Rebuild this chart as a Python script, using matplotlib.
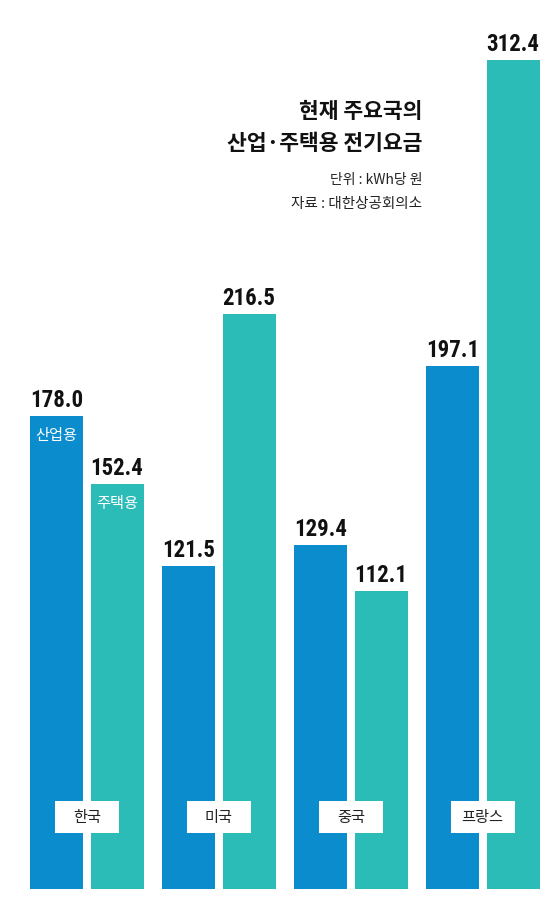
import numpy as np
import matplotlib
matplotlib.use('Agg')
import matplotlib.pyplot as plt
from matplotlib.patches import Rectangle

plt.rcParams['font.family'] = ['Noto Sans CJK KR', 'DejaVu Sans']

# data
countries = ['한국', '미국', '중국', '프랑스']
industrial = [178.0, 121.5, 129.4, 197.1]
residential = [152.4, 216.5, 112.1, 312.4]
series_names = ['산업용', '주택용']
title_lines = ['현재 주요국의', '산업·주택용 전기요금']
unit_text = '단위 : kWh당 원'
source_text = '자료 : 대한상공회의소'

blue = '#0a8ccd'
teal = '#2cbcb7'

W, H = 560, 920
fig = plt.figure(figsize=(W / 100, H / 100), dpi=100)
ax = fig.add_axes([0, 0, 1, 1])
ax.set_axis_off()

# 1 group = 132 px, 1 value unit = 2.655 px, baseline at 890 px from top
px_x = 132.0
px_y = 2.655
x0 = 56.5
ax.set_xlim(-x0 / px_x, (W - x0) / px_x)
ax.set_ylim(-(H - 890) / px_y, 890 / px_y)

idx = np.arange(len(countries))
bw = 53 / px_x
off = 60.5 / px_x
b1 = ax.bar(idx, industrial, width=bw, color=blue)
b2 = ax.bar(idx + off, residential, width=bw, color=teal)

num_font = ['Roboto Condensed', 'DejaVu Sans']
for bars, vals in ((b1, industrial), (b2, residential)):
    for r, v in zip(bars, vals):
        ax.annotate(f'{v:.1f}', (r.get_x() + r.get_width() / 2, v),
                    xytext=(0, 5), textcoords='offset pixels',
                    ha='center', va='bottom', fontsize=16.5, fontweight='bold',
                    family=num_font, color='#111111')

# series names inside the first group
for bars, vals, name in ((b1, industrial, series_names[0]),
                         (b2, residential, series_names[1])):
    r = bars[0]
    ax.annotate(name, (r.get_x() + r.get_width() / 2, vals[0]),
                xytext=(0, -18), textcoords='offset pixels',
                ha='center', va='center', fontsize=11, color='white')

# country label boxes
for i, c in enumerate(countries):
    cx = i + off / 2
    bx_w = 64 / px_x
    bx_h = 32 / px_y
    cy = (890 - 818) / px_y
    ax.add_patch(Rectangle((cx - bx_w / 2, cy - bx_h / 2), bx_w, bx_h,
                           facecolor='white', edgecolor='none', zorder=3))
    ax.text(cx, cy, c, ha='center', va='center', fontsize=11,
            color='#222222', zorder=4)

# title block (figure pixel coords)
fig.text(422 / W, 1 - 111 / H, title_lines[0], ha='right', va='center',
         fontsize=15.5, fontweight='bold', color='#111111')
fig.text(422 / W, 1 - 144 / H, title_lines[1], ha='right', va='center',
         fontsize=15.5, fontweight='bold', color='#111111')
fig.text(422 / W, 1 - 180 / H, unit_text, ha='right', va='center',
         fontsize=10, color='#222222')
fig.text(422 / W, 1 - 204 / H, source_text, ha='right', va='center',
         fontsize=10.5, color='#222222')

fig.savefig('out.png', dpi=100, facecolor='white')
